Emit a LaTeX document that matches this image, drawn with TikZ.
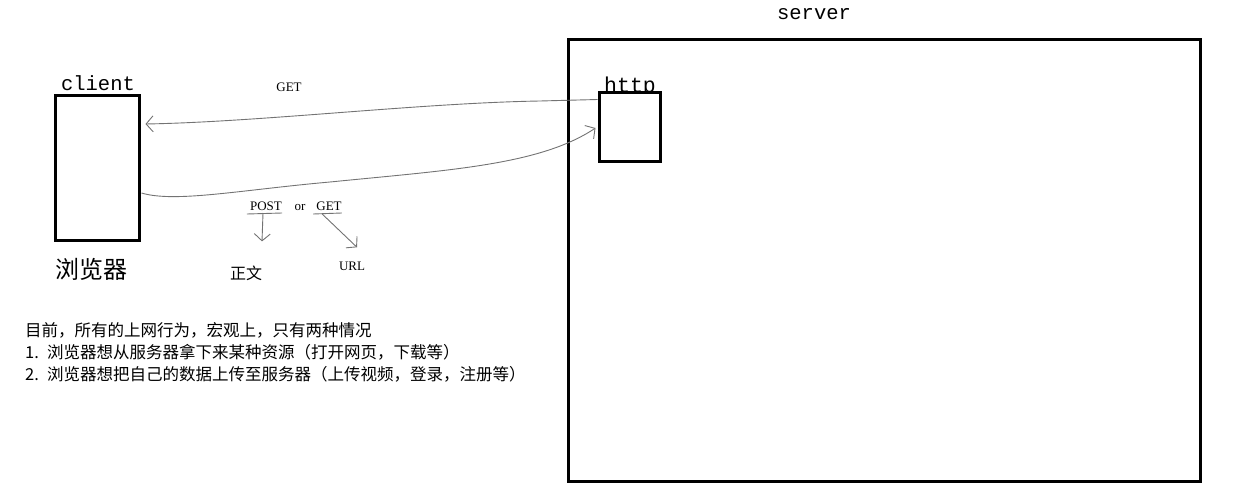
\documentclass[tikz,border=0pt]{standalone}
\usepackage{fontspec}
\setmainfont{Liberation Serif}
\setmonofont{Liberation Mono}
\newfontfamily\cjk{Noto Sans CJK SC}
\usetikzlibrary{arrows.meta,calc}
\tikzset{
  boxnode/.style={draw, line width=3pt, inner sep=0pt},
  monolabel/.style={font=\ttfamily\fontsize{20.5}{22}\selectfont, inner sep=0pt, anchor=base},
  smalllabel/.style={font=\rmfamily\fontsize{13}{15}\selectfont, inner sep=0pt, anchor=base},
  cjklabel/.style={font=\cjk\fontsize{16}{18}\selectfont, inner sep=0pt},
  bodyline/.style={font=\cjk\fontsize{16.5}{18}\selectfont, inner sep=0pt, anchor=west},
  hand/.style={draw=black!55, line width=0.9pt},
  handtip/.style={hand, -{Straight Barb[length=7pt,width=16pt,line width=0.9pt]}},
}
\begin{document}
\begin{tikzpicture}[x=1pt,y=-1pt]
\useasboundingbox (0,0) rectangle (1238,492);
% client
\node[boxnode, minimum width=84pt, minimum height=144pt] (client) at (97,168) {};
\node[monolabel] (clientlabel) at (98,91) {client};
\node[font=\cjk\fontsize{24}{26}\selectfont, inner sep=0pt] (browser) at (91,269) {浏览器};
% server
\node[boxnode, minimum width=632pt, minimum height=441pt] (server) at (884,260.5) {};
\node[monolabel] (serverlabel) at (814,20) {server};
% http
\node[monolabel, font=\ttfamily\fontsize{21.5}{22}\selectfont] (httplabel) at (630,93) {http};
\node[boxnode, fill=white, minimum width=61pt, minimum height=68pt] (http) at (629.5,127) {};
% GET label
\node[smalllabel] (getlabel) at (289,92) {GET};
% upper connector: http -> client
\coordinate (upstart) at ($(http.north west)+(0,8)$);
\coordinate (upend) at ($(client.east)+(5,-44)$);
\draw[handtip] (upstart) -- (540,101) .. controls (420,103) and (260,122) .. (upend);
% lower connector: client -> http
\coordinate (lowstart) at ($(client.east)+(1,25)$);
\coordinate (lowend) at ($(http.west)+(-2,1)$);
\draw[handtip] (lowstart) .. controls (175,203) and (240,190) .. (330,182)
  .. controls (450,170) and (540,165) .. (lowend);
% POST or GET
\node[smalllabel] (post) at (266,210) {POST};
\node[smalllabel] (or) at (300,210) {or};
\node[smalllabel] (getb) at (329,210) {GET};
\draw[hand] ($(post.base west)+(-3,4)$) -- ($(post.base east)+(0,3)$);
\draw[hand] ($(getb.base west)+(-3,4)$) -- ($(getb.base east)+(0,3)$);
\node[cjklabel] (zhengwen) at (246,273) {正文};
\node[smalllabel] (url) at (352,270) {URL};
\draw[handtip] ($(post.base)+(-3,3)$) -- ($(zhengwen.north)+(16,-24)$);
\draw[handtip] ($(getb.base west)+(6,4)$) -- ($(url.north)+(5,-14)$);
% text block
\node[bodyline] (line1) at (25,330) {目前，所有的上网行为，宏观上，只有两种情况};
\node[bodyline] (line2) at (25,352) {1.\enspace 浏览器想从服务器拿下来某种资源（打开网页，下载等）};
\node[bodyline] (line3) at (25,374) {2.\enspace 浏览器想把自己的数据上传至服务器（上传视频，登录，注册等）};
\end{tikzpicture}
\end{document}
